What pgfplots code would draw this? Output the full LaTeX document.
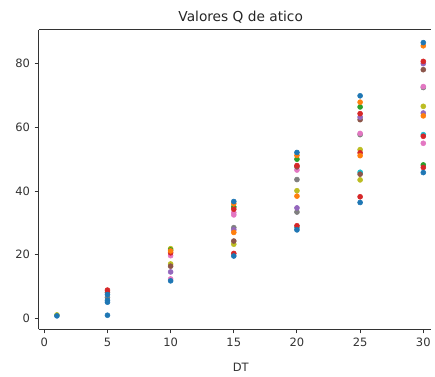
\documentclass[border=0pt]{standalone}
\usepackage{pgfplots}
\pgfplotsset{compat=1.18}
\usepackage{fontspec}
\setmainfont{DejaVu Sans}
\definecolor{tBlue}{HTML}{1F77B4}
\definecolor{tOrange}{HTML}{FF7F0E}
\definecolor{tGreen}{HTML}{2CA02C}
\definecolor{tRed}{HTML}{D62728}
\definecolor{tPurple}{HTML}{9467BD}
\definecolor{tBrown}{HTML}{8C564B}
\definecolor{tPink}{HTML}{E377C2}
\definecolor{tGray}{HTML}{7F7F7F}
\definecolor{tOlive}{HTML}{BCBD22}
\definecolor{tCyan}{HTML}{17BECF}
\definecolor{axgray}{HTML}{333333}
\begin{document}
\begin{tikzpicture}
\begin{axis}[
  name=ax,
  scale only axis,
  width=297pt, height=227pt,
  xmin=-0.45, xmax=30.58,
  ymin=-3.42, ymax=90.66,
  axis x line*=bottom,
  axis y line*=left,
  xtick={0,5,10,15,20,25,30},
  ytick={0,20,40,60,80},
  tick align=outside,
  major tick length=3pt,
  axis line style={axgray, line width=0.7pt},
  tick style={axgray, line width=0.7pt},
  /pgf/number format/assume math mode=true,
  ticklabel style={font=\fontsize{8.7}{10}\selectfont, text=axgray},
  title={Valores Q de atico},
  title style={font=\fontsize{10.4}{12}\selectfont, text=black!85, yshift=-5pt, xshift=4.6pt},
  xlabel={DT},
  xlabel style={font=\fontsize{8.7}{10}\selectfont, text=axgray, yshift=-6pt, xshift=4.6pt},
  every axis plot/.append style={only marks, mark=*, mark size=1.9pt},
  clip=false,
]
\draw[axgray, line width=0.7pt] (rel axis cs:0,1) -- (rel axis cs:1,1);
\addplot[tCyan, mark options={fill=tCyan, draw=tCyan}] coordinates {(30,57.7) (25,45.9) (20,28.5)};
\addplot[tOlive, mark options={fill=tOlive, draw=tOlive}] coordinates {(30,66.6) (25,53.0) (25,43.5) (20,40.1) (15,23.3) (10,21.9) (10,17.1) (1,1.1)};
\addplot[tGray, mark options={fill=tGray, draw=tGray}] coordinates {(30,72.5) (25,57.7) (20,43.6) (20,33.4) (15,28.5) (5,6.6)};
\addplot[tPink, mark options={fill=tPink, draw=tPink}] coordinates {(30,72.8) (30,55.0) (25,58.1) (20,46.6) (15,33.2) (15,32.5) (10,19.7) (10,12.4)};
\addplot[tBrown, mark options={fill=tBrown, draw=tBrown}] coordinates {(30,78.1) (25,62.4) (25,45.3) (20,47.6) (15,24.3) (10,16.4) (5,8.2)};
\addplot[tPurple, mark options={fill=tPurple, draw=tPurple}] coordinates {(30,80.0) (30,64.5) (25,63.2) (20,34.7) (15,27.8) (10,14.6)};
\addplot[tGreen, mark options={fill=tGreen, draw=tGreen}] coordinates {(30,48.2) (25,66.4) (20,50.0) (15,35.0) (10,21.5)};
\addplot[tRed, mark options={fill=tRed, draw=tRed}] coordinates {(30,80.7) (30,57.2) (30,47.4) (25,64.3) (25,52.0) (25,38.2) (20,48.0) (20,29.1) (15,34.3) (15,20.4) (10,20.6) (5,8.9)};
\addplot[tOrange, mark options={fill=tOrange, draw=tOrange}] coordinates {(30,85.6) (30,63.6) (25,67.9) (25,51.1) (20,51.2) (20,38.4) (15,36.0) (15,27.0) (10,21.2)};
\addplot[tBlue, mark options={fill=tBlue, draw=tBlue}] coordinates {(30,86.6) (30,45.8) (25,69.9) (25,36.4) (20,52.1) (20,27.8) (15,36.7) (15,19.6) (10,11.8) (5,7.5) (5,5.7) (5,5.1) (5,1.0) (1,0.8)};
\end{axis}
\path (ax.south west) ++(-29.25pt,-30.2pt);
\path (ax.north west) ++(0pt,22.5pt);
\end{tikzpicture}
\end{document}
